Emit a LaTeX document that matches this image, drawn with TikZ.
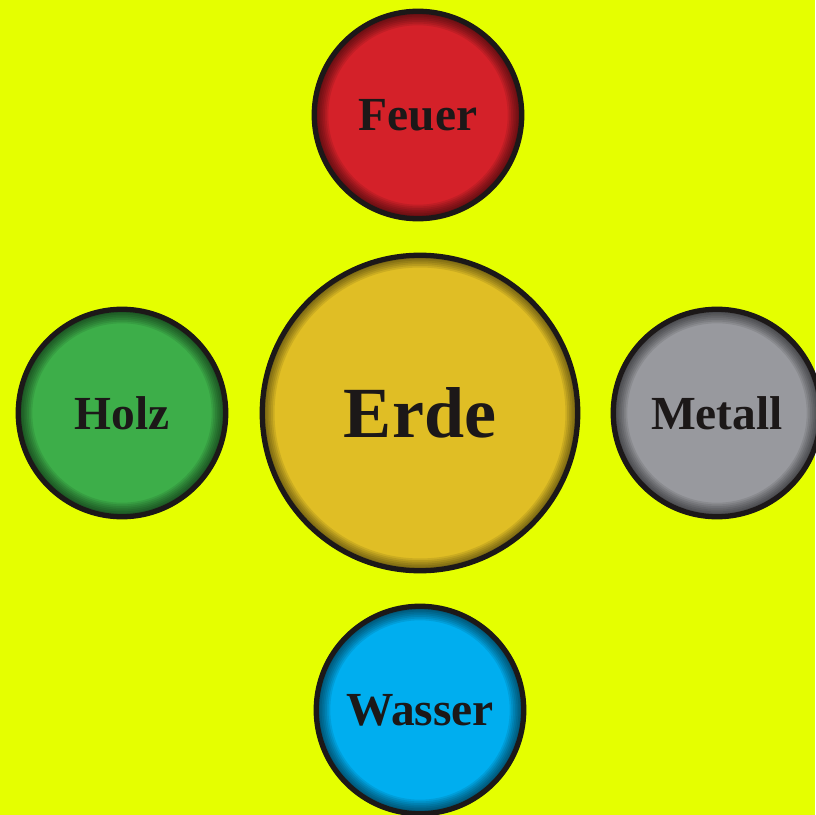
\documentclass[tikz,border=0pt]{standalone}
\usepackage{fontspec}
\setmainfont{Liberation Serif}
\usepackage{tikz}
\usepackage{xcolor}
\usetikzlibrary{shapes.geometric, positioning}
\definecolor{Lemon}{HTML}{E5FF00}
\definecolor{Ink}{HTML}{1C1818}
\definecolor{FireRed}{HTML}{D42129}
\definecolor{EarthGold}{HTML}{E0BE25}
\definecolor{MetalGray}{HTML}{98999E}
\definecolor{WaterBlue}{HTML}{00AEEF}
\definecolor{WoodGreen}{HTML}{3DAE49}
\tikzset{
  elem/.style={circle, draw=Ink, line width=3pt, fill=#1, minimum size=4.15cm, text=Ink,
    font=\fontsize{27}{31}\selectfont\bfseries,
    path picture={\foreach \w in {2,4,...,16} \draw[black, opacity=0.09, line width=\w pt] (path picture bounding box.center) circle (2.075cm);}},
  bigelem/.style={elem=#1, minimum size=6.31cm, font=\fontsize{41}{47}\selectfont\bfseries,
    path picture={\foreach \w in {2,4,...,14} \draw[black, opacity=0.09, line width=\w pt] (path picture bounding box.center) circle (3.155cm);}}
}

\begin{document}
\begin{tikzpicture}
    \fill[Lemon] (-8.4,-8.04) rectangle (7.9,8.26);
    \useasboundingbox (-8.4,-8.04) rectangle (7.9,8.26);

    \node (erde) [bigelem=EarthGold] at (0, 0) {Erde};
    \node (feuer) [elem=FireRed] at (-0.04, 5.96) {Feuer};
    \node (holz) [elem=WoodGreen] at (-5.96, 0) {Holz};
    \node (metall) [elem=MetalGray] at (5.94, 0) {Metall};
    \node (wasser) [elem=WaterBlue] at (0, -5.94) {Wasser};
\end{tikzpicture}
\end{document}
